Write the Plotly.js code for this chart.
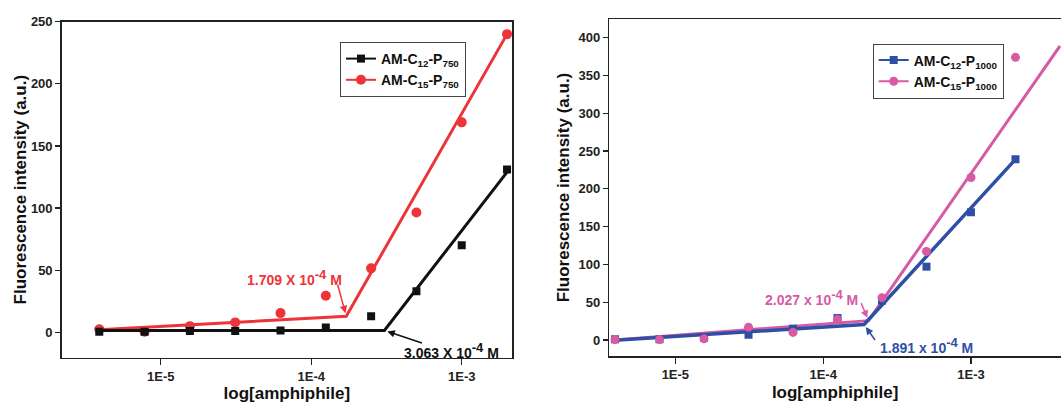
<!DOCTYPE html>
<html>
<head>
<meta charset="utf-8">
<script src="https://cdn.plot.ly/plotly-3.0.1.min.js"></script>
<style>
  html, body { margin: 0; padding: 0; background: #fff; }
  #chart { width: 1061px; height: 403px; }
</style>
</head>
<body>
<div id="chart"></div>
<script>
// ---- data ----
const conc = [3.90625e-6, 7.8125e-6, 1.5625e-5, 3.125e-5, 6.25e-5, 1.25e-4, 2.5e-4, 5e-4, 1e-3, 2e-3];

const c12p750 = [0.5, 0.5, 1, 1, 1.5, 4, 13, 33, 70, 131];
const c15p750 = [2.5, 0.5, 5, 8, 15.5, 29.5, 51.5, 96.5, 169, 240];
const c12p1000 = [1, 1, 3, 7, 15, 29, 52, 97, 169, 239];
const c15p1000 = [0.5, 0.5, 1.5, 17, 10, 27, 56, 117, 215, 374];

// piecewise linear fits (start, break point, end)
const fitXc12p750 = [3.9e-6, 3.063e-4, 2e-3];
const fitYc12p750 = [1.5, 1.5, 129];
const fitXc15p750 = [3.9e-6, 1.709e-4, 2e-3];
const fitYc15p750 = [2, 13, 240];
const fitXc12p1000 = [3.9e-6, 1.891e-4, 2e-3];
const fitYc12p1000 = [-0.5, 20.5, 239];
const fitXc15p1000 = [3.9e-6, 2.027e-4, 4e-3];
const fitYc15p1000 = [0, 25.6, 389];

const seriesNames = [
  "<b>AM-C<sub>12</sub>-P<sub>750</sub></b>",
  "<b>AM-C<sub>15</sub>-P<sub>750</sub></b>",
  "<b>AM-C<sub>12</sub>-P<sub>1000</sub></b>",
  "<b>AM-C<sub>15</sub>-P<sub>1000</sub></b>"
];
const SUP = "<sup><span style='font-size:13px'>-4</span></sup>";
const cmcLabels = [
  "<b>3.063 X 10" + SUP + " M</b>",
  "<b>1.709 X 10" + SUP + " M</b>",
  "<b>1.891 x 10" + SUP + " M</b>",
  "<b>2.027 x 10" + SUP + " M</b>"
];
const tickVals = [1e-5, 1e-4, 1e-3];
const tickText = ["1E-5", "1E-4", "1E-3"];
const yTicksLeft = [0, 50, 100, 150, 200, 250];
const yTicksRight = [0, 50, 100, 150, 200, 250, 300, 350, 400];

// ---- styles ----
const BLACK = "#111111", RED = "#ec3439", BLUE = "#2f4fa6", PINK = "#d65aa4";
const FONT = "Arial, 'Liberation Sans', sans-serif";
const W = 1061, H = 403;

function fit(x, y, color, w, xa, ya) {
  return {x: x, y: y, mode: "lines", line: {color: color, width: w}, xaxis: xa, yaxis: ya,
          showlegend: false, hoverinfo: "skip"};
}
function pts(x, y, color, sym, size, xa, ya) {
  return {x: x, y: y, mode: "markers", marker: {color: color, symbol: sym, size: size},
          xaxis: xa, yaxis: ya, showlegend: false};
}
function leg(name, color, sym, size, xa, ya, legend) {
  return {x: [null], y: [null], mode: "lines+markers", name: name,
          line: {color: color, width: 2}, marker: {color: color, symbol: sym, size: size},
          xaxis: xa, yaxis: ya, legend: legend, showlegend: true};
}

const traces = [
  fit(fitXc15p750, fitYc15p750, RED, 3, "x", "y"),
  pts(conc, c15p750, RED, "circle", 10, "x", "y"),
  fit(fitXc12p750, fitYc12p750, BLACK, 3, "x", "y"),
  pts(conc, c12p750, BLACK, "square", 8, "x", "y"),
  leg(seriesNames[0], BLACK, "square", 8, "x", "y", "legend"),
  leg(seriesNames[1], RED, "circle", 10, "x", "y", "legend"),

  fit(fitXc15p1000, fitYc15p1000, PINK, 3, "x2", "y2"),
  fit(fitXc12p1000, fitYc12p1000, BLUE, 3.5, "x2", "y2"),
  pts(conc, c12p1000, BLUE, "square", 8, "x2", "y2"),
  pts(conc, c15p1000, PINK, "circle", 9, "x2", "y2"),
  leg(seriesNames[2], BLUE, "square", 8, "x2", "y2", "legend2"),
  leg(seriesNames[3], PINK, "circle", 9, "x2", "y2", "legend2")
];

const tickFont = {family: FONT, size: 13, color: "#222", weight: "bold"};
const titleFont = {family: FONT, size: 17, color: "#111", weight: "bold"};

function xAxis(domain, range, anchor, mirror) {
  return {
    type: "log", domain: domain, range: range, anchor: anchor,
    tickvals: tickVals, ticktext: tickText, ticks: "outside", ticklen: 6, tickwidth: 1.3,
    tickcolor: "#222", tickfont: tickFont,
    showline: true, linecolor: "#222", linewidth: 1.5, mirror: mirror,
    showgrid: false, zeroline: false, automargin: false,
    title: {text: "log[amphiphile]", font: titleFont, standoff: 5}
  };
}
function yAxis(domain, range, anchor, vals, mirror, standoff) {
  return {
    domain: domain, range: range, anchor: anchor,
    tickvals: vals, ticktext: vals.map(String),
    ticks: "outside", ticklen: 5, tickwidth: 1.3, tickcolor: "#222", tickfont: tickFont,
    showline: true, linecolor: "#222", linewidth: 1.5, mirror: mirror,
    showgrid: false, zeroline: false, automargin: false,
    title: {text: "Fluorescence intensity (a.u.)", font: titleFont, standoff: standoff}
  };
}

function arrow(x, y, ax, ay, xref, yref, color) {
  return {x: Math.log10(x), y: y, xref: xref, yref: yref, text: "", showarrow: true,
          ax: ax, ay: ay, arrowhead: 2, arrowsize: 1, arrowwidth: 1.5, arrowcolor: color,
          standoff: 3};
}
function label(px, py, text, color) {
  return {x: px / W, y: 1 - py / H, xref: "paper", yref: "paper", text: text,
          showarrow: false, xanchor: "left", yanchor: "middle",
          font: {family: FONT, size: 14, color: color}};
}

const legendStyle = {
  xanchor: "left", yanchor: "top", bgcolor: "#fff", bordercolor: "#444", borderwidth: 1,
  font: {family: FONT, size: 14, color: "#111"}, traceorder: "normal",
  tracegroupgap: 0, itemwidth: 30
};

const layout = {
  width: W, height: H,
  margin: {l: 0, r: 0, t: 0, b: 0},
  paper_bgcolor: "#fff", plot_bgcolor: "#fff",
  showlegend: true,
  xaxis: xAxis([61.7 / W, 512 / W], [-5.658, -2.666], "y", true),
  yaxis: yAxis([1 - 357.7 / H, 1 - 21.7 / H], [-20.4, 250], "x", yTicksLeft, true, 0),
  xaxis2: xAxis([609.3 / W, 1], [-5.447, -2.391], "y2", true),
  yaxis2: yAxis([1 - 356 / H, 1 - 19 / H], [-21.2, 424.7], "x2", yTicksRight, false, 4),
  legend: Object.assign({x: 340 / W, y: 1 - 42 / H}, legendStyle),
  legend2: Object.assign({x: 872.7 / W, y: 1 - 43.5 / H}, legendStyle),
  annotations: [
    label(402, 350, cmcLabels[0], BLACK),
    label(245, 277, cmcLabels[1], RED),
    label(878, 345, cmcLabels[2], BLUE),
    label(763, 297.7, cmcLabels[3], PINK),
    arrow(fitXc12p750[1], fitYc12p750[1], 39, 13, "x", "y", BLACK),
    arrow(fitXc15p750[1], fitYc15p750[1], -9, -33, "x", "y", RED),
    arrow(fitXc12p1000[1], fitYc12p1000[1], 12, 17, "x2", "y2", BLUE),
    arrow(fitXc15p1000[1], fitYc15p1000[1], -8, -19, "x2", "y2", PINK)
  ]
};

Plotly.newPlot("chart", traces, layout, {staticPlot: true, displayModeBar: false});
</script>
</body>
</html>
